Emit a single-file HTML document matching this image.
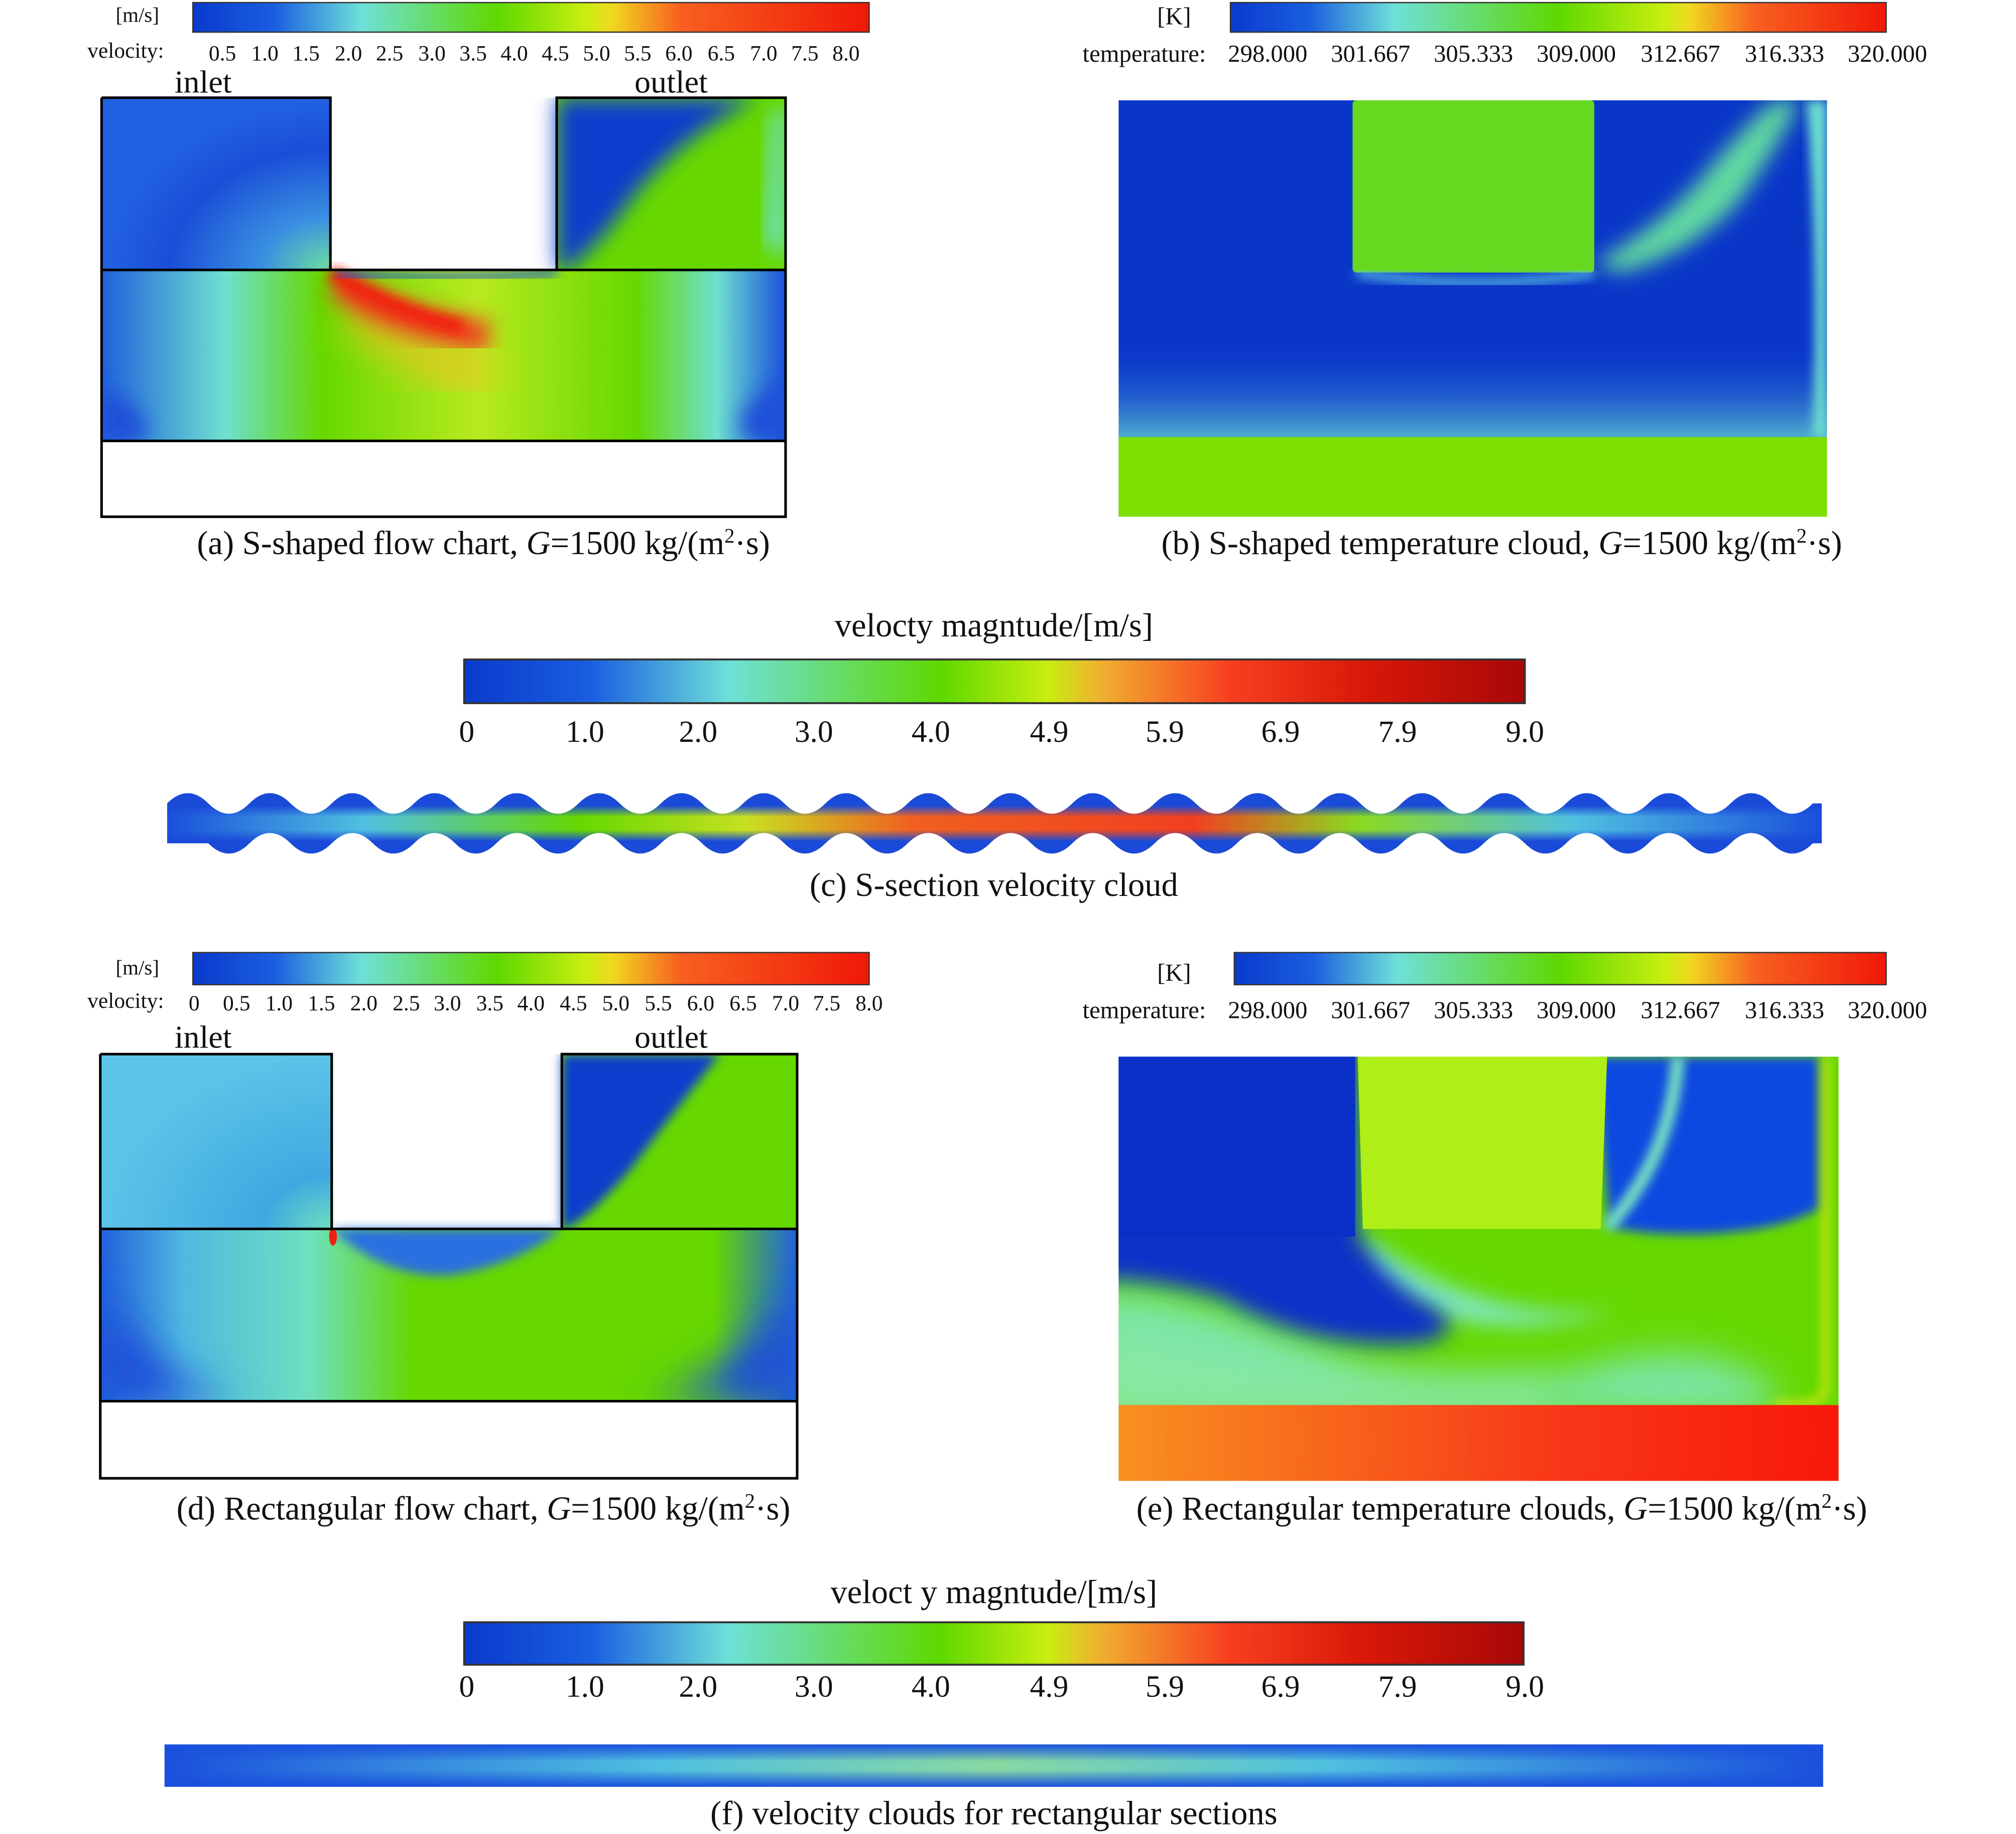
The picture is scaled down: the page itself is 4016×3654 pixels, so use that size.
<!DOCTYPE html>
<html><head><meta charset="utf-8"><style>
html,body{margin:0;padding:0;background:#fff;}
svg{display:block;}
text{font-family:"Liberation Serif",serif;fill:#111;}
</style></head><body>
<svg width="4016" height="3654" viewBox="0 0 1568 1426.7" preserveAspectRatio="none" xmlns="http://www.w3.org/2000/svg">
<defs>
<filter id="b4" x="-20%" y="-20%" width="140%" height="140%"><feGaussianBlur stdDeviation="4"/></filter>
<filter id="b8" x="-20%" y="-20%" width="140%" height="140%"><feGaussianBlur stdDeviation="8"/></filter>
<filter id="b15" x="-30%" y="-30%" width="160%" height="160%"><feGaussianBlur stdDeviation="15"/></filter>
<linearGradient id="jet" x1="0" x2="1">
<stop offset="0" stop-color="#0a3acc"/><stop offset="0.12" stop-color="#1a5ee0"/>
<stop offset="0.25" stop-color="#6ee0d8"/><stop offset="0.45" stop-color="#5fd800"/>
<stop offset="0.58" stop-color="#c8ee10"/><stop offset="0.62" stop-color="#f0d820"/>
<stop offset="0.72" stop-color="#f86020"/><stop offset="1" stop-color="#f01808"/>
</linearGradient>
<linearGradient id="jetT" x1="0" x2="1">
<stop offset="0" stop-color="#0a3acc"/><stop offset="0.12" stop-color="#1a5ee0"/>
<stop offset="0.25" stop-color="#6ee0d8"/><stop offset="0.5" stop-color="#5fd800"/>
<stop offset="0.66" stop-color="#c8ee10"/><stop offset="0.7" stop-color="#f0d820"/>
<stop offset="0.8" stop-color="#f86020"/><stop offset="1" stop-color="#f01808"/>
</linearGradient>
<linearGradient id="jet9" x1="0" x2="1">
<stop offset="0" stop-color="#0a3acc"/><stop offset="0.12" stop-color="#1a5ee0"/>
<stop offset="0.25" stop-color="#6ee0d8"/><stop offset="0.45" stop-color="#5fd800"/>
<stop offset="0.55" stop-color="#c8ee10"/><stop offset="0.6" stop-color="#f0b030"/>
<stop offset="0.72" stop-color="#f84020"/><stop offset="0.85" stop-color="#d81808"/><stop offset="1" stop-color="#a80808"/>
</linearGradient>
<linearGradient id="chA" x1="0" x2="1">
<stop offset="0" stop-color="#2060dc"/><stop offset="0.18" stop-color="#6ee0d0"/>
<stop offset="0.32" stop-color="#66d800"/><stop offset="0.55" stop-color="#b8ea20"/>
<stop offset="0.78" stop-color="#66d800"/><stop offset="0.9" stop-color="#6ee0d0"/><stop offset="1" stop-color="#1a50dc"/>
</linearGradient>
<radialGradient id="inA" cx="1" cy="1" r="1">
<stop offset="0" stop-color="#6ee0a0"/><stop offset="0.3" stop-color="#3a90e0"/><stop offset="0.7" stop-color="#1a4ed8"/><stop offset="1" stop-color="#2262e2"/>
</radialGradient>
<radialGradient id="inD" cx="1" cy="1" r="1">
<stop offset="0" stop-color="#6ee0c0"/><stop offset="0.3" stop-color="#40a8e0"/><stop offset="1" stop-color="#5cc4e8"/>
</radialGradient>
<linearGradient id="chD" x1="0" x2="1">
<stop offset="0" stop-color="#2060dc"/><stop offset="0.12" stop-color="#50b8e0"/>
<stop offset="0.3" stop-color="#6ee0c0"/><stop offset="0.45" stop-color="#66d800"/>
<stop offset="0.88" stop-color="#66d800"/><stop offset="1" stop-color="#2060e0"/>
</linearGradient>
<linearGradient id="redE" x1="0" x2="1">
<stop offset="0" stop-color="#f89020"/><stop offset="0.6" stop-color="#f83818"/><stop offset="1" stop-color="#f81808"/>
</linearGradient>
<linearGradient id="wave" x1="0" x2="1">
<stop offset="0" stop-color="#1a50dc"/><stop offset="0.12" stop-color="#50c0e0"/>
<stop offset="0.25" stop-color="#66d800"/><stop offset="0.35" stop-color="#c8e020"/>
<stop offset="0.45" stop-color="#f06020"/><stop offset="0.62" stop-color="#f04020"/>
<stop offset="0.72" stop-color="#8ada20"/><stop offset="0.85" stop-color="#50c0e0"/><stop offset="1" stop-color="#1a50dc"/>
</linearGradient>
<linearGradient id="waveV" x1="0" y1="0" x2="0" y2="1">
<stop offset="0" stop-color="#1a4ad8"/><stop offset="0.28" stop-color="#1a4ad8"/><stop offset="0.42" stop-color="#1a4ad8" stop-opacity="0"/>
<stop offset="0.58" stop-color="#1a4ad8" stop-opacity="0"/><stop offset="0.72" stop-color="#1a4ad8"/><stop offset="1" stop-color="#1a4ad8"/>
</linearGradient>
<linearGradient id="stripF" x1="0" x2="1">
<stop offset="0" stop-color="#1a50dc"/><stop offset="0.3" stop-color="#50c0e0"/>
<stop offset="0.5" stop-color="#88d8a0"/><stop offset="0.7" stop-color="#50c0e0"/><stop offset="1" stop-color="#1a50dc"/>
</linearGradient>
<linearGradient id="stripV" x1="0" y1="0" x2="0" y2="1">
<stop offset="0" stop-color="#1a50dc"/><stop offset="0.4" stop-color="#1a50dc" stop-opacity="0"/>
<stop offset="0.6" stop-color="#1a50dc" stop-opacity="0"/><stop offset="1" stop-color="#1a50dc"/>
</linearGradient>
<linearGradient id="bBot" x1="0" y1="0" x2="0" y2="1">
<stop offset="0" stop-color="#1a50dc" stop-opacity="0"/><stop offset="1" stop-color="#6ee0d0"/>
</linearGradient>
<clipPath id="cA"><rect x="79" y="76" width="532" height="267"/></clipPath>
<clipPath id="cB"><rect x="870" y="78" width="551" height="324"/></clipPath>
<clipPath id="cD"><rect x="78" y="820" width="542" height="270"/></clipPath>
<clipPath id="cE"><rect x="870" y="822" width="560" height="330"/></clipPath>
<path id="wv" d="M130 625 q16 -16 32 0 t32 0 t32 0 t32 0 t32 0 t32 0 t32 0 t32 0 t32 0 t32 0 t32 0 t32 0 t32 0 t32 0 t32 0 t32 0 t32 0 t32 0 t32 0 t32 0 t32 0 t32 0 t32 0 t32 0 t32 0 t32 0 t32 0 t32 0 t32 0 t32 0 t32 0 t32 0 t32 0 t32 0 t32 0 t32 0 t32 0 t32 0 t32 0 t32 0 L1417 625 L1417 656 L1410 656 q-16 16 -32 0 t-32 0 t-32 0 t-32 0 t-32 0 t-32 0 t-32 0 t-32 0 t-32 0 t-32 0 t-32 0 t-32 0 t-32 0 t-32 0 t-32 0 t-32 0 t-32 0 t-32 0 t-32 0 t-32 0 t-32 0 t-32 0 t-32 0 t-32 0 t-32 0 t-32 0 t-32 0 t-32 0 t-32 0 t-32 0 t-32 0 t-32 0 t-32 0 t-32 0 t-32 0 t-32 0 t-32 0 t-32 0 t-32 0 L130 656Z"/>
<clipPath id="cW"><use href="#wv"/></clipPath>
</defs>

<!-- Panel a -->
<text x="90" y="17" font-size="16">[m/s]</text>
<rect x="150" y="2" width="526" height="23" fill="url(#jet)" stroke="#333" stroke-width="1"/>
<text x="68" y="45" font-size="17">velocity:</text>
<g font-size="17" text-anchor="middle">
<text x="173" y="47">0.5</text><text x="206" y="47">1.0</text><text x="238" y="47">1.5</text><text x="271" y="47">2.0</text><text x="303" y="47">2.5</text><text x="336" y="47">3.0</text><text x="368" y="47">3.5</text><text x="400" y="47">4.0</text><text x="432" y="47">4.5</text><text x="464" y="47">5.0</text><text x="496" y="47">5.5</text><text x="528" y="47">6.0</text><text x="561" y="47">6.5</text><text x="594" y="47">7.0</text><text x="626" y="47">7.5</text><text x="658" y="47">8.0</text>
</g>
<text x="158" y="72" font-size="25" text-anchor="middle">inlet</text>
<text x="522" y="72" font-size="25" text-anchor="middle">outlet</text>
<rect x="79" y="76" width="178" height="134" fill="url(#inA)"/>
<g clip-path="url(#cA)">
<rect x="433" y="76" width="178" height="134" fill="#66d800"/>
<path d="M433 76 H590 Q520 110 480 170 Q455 200 440 210 H433Z" fill="#0a3ccc" filter="url(#b8)"/>
<path d="M600 90 L611 80 V200 L595 190Z" fill="#6ee0d0" filter="url(#b8)"/>
<rect x="79" y="210" width="532" height="133" fill="url(#chA)"/>
<path d="M79 300 Q150 345 79 345Z M611 290 Q540 345 611 345Z" fill="#1a4ed8" filter="url(#b8)"/>
<path d="M275 240 Q320 280 380 290" stroke="#f0c020" stroke-width="30" fill="none" filter="url(#b15)" opacity="0.8"/>
<path d="M262 218 Q300 250 380 262" stroke="#f04020" stroke-width="24" fill="none" filter="url(#b8)"/>
<path d="M258 212 Q300 240 360 255" stroke="#f02010" stroke-width="12" fill="none" filter="url(#b4)"/>
<path d="M262 212 Q330 220 433 212" stroke="#1a50dc" stroke-width="5" fill="none" filter="url(#b4)"/>
</g>
<path d="M79 76H257V210M433 210V76H611V402H79V76M79 210H611M79 343H611" fill="none" stroke="#000" stroke-width="2"/>
<text x="376" y="431" font-size="26" text-anchor="middle">(a) S-shaped flow chart, <tspan font-style="italic">G</tspan>=1500 kg/(m<tspan font-size="16" dy="-9">2</tspan><tspan dy="9">·s)</tspan></text>

<!-- Panel b -->
<text x="900" y="19" font-size="19">[K]</text>
<rect x="957" y="2" width="510" height="23" fill="url(#jetT)" stroke="#333" stroke-width="1"/>
<text x="842" y="48" font-size="19">temperature:</text>
<g font-size="19" text-anchor="middle">
<text x="986" y="48">298.000</text><text x="1066" y="48">301.667</text><text x="1146" y="48">305.333</text><text x="1226" y="48">309.000</text><text x="1307" y="48">312.667</text><text x="1388" y="48">316.333</text><text x="1468" y="48">320.000</text>
</g>
<g clip-path="url(#cB)">
<rect x="870" y="78" width="551" height="324" fill="#0a36c8"/>
<rect x="870" y="270" width="551" height="70" fill="url(#bBot)" opacity="0.7"/>
<path d="M1405 78 Q1415 200 1410 340 L1421 340 L1421 78Z" fill="#6ee0d0" filter="url(#b4)"/>
<path d="M1240 205 Q1300 170 1330 130 Q1360 95 1380 78 L1400 78 Q1380 120 1350 160 Q1310 200 1260 212Z" fill="#60d8a0" filter="url(#b8)"/>
<rect x="1052" y="78" width="188" height="134" rx="3" fill="#66d820"/>
<path d="M1055 212 Q1150 228 1240 212" stroke="#5ac0e0" stroke-width="6" fill="none" filter="url(#b4)"/>
<rect x="870" y="340" width="551" height="62" fill="#7ede00"/>
</g>
<text x="1168" y="431" font-size="26" text-anchor="middle">(b) S-shaped temperature cloud, <tspan font-style="italic">G</tspan>=1500 kg/(m<tspan font-size="16" dy="-9">2</tspan><tspan dy="9">·s)</tspan></text>

<!-- Panel c -->
<text x="773" y="495" font-size="26" text-anchor="middle">velocty magntude/[m/s]</text>
<rect x="361" y="513" width="825" height="34" fill="url(#jet9)" stroke="#333" stroke-width="1.5"/>
<g font-size="24" text-anchor="middle">
<text x="363" y="577">0</text><text x="455" y="577">1.0</text><text x="543" y="577">2.0</text><text x="633" y="577">3.0</text><text x="724" y="577">4.0</text><text x="816" y="577">4.9</text><text x="906" y="577">5.9</text><text x="996" y="577">6.9</text><text x="1087" y="577">7.9</text><text x="1186" y="577">9.0</text>
</g>
<g clip-path="url(#cW)">
<rect x="130" y="605" width="1287" height="70" fill="url(#wave)"/>
<rect x="130" y="609" width="1287" height="63" fill="url(#waveV)"/>
</g>
<text x="773" y="697" font-size="26" text-anchor="middle">(c) S-section velocity cloud</text>

<!-- Panel d -->
<text x="90" y="758" font-size="16">[m/s]</text>
<rect x="150" y="741" width="526" height="25" fill="url(#jet)" stroke="#333" stroke-width="1"/>
<text x="68" y="784" font-size="17">velocity:</text>
<g font-size="17" text-anchor="middle">
<text x="151" y="786">0</text><text x="184" y="786">0.5</text><text x="217" y="786">1.0</text><text x="250" y="786">1.5</text><text x="283" y="786">2.0</text><text x="316" y="786">2.5</text><text x="348" y="786">3.0</text><text x="381" y="786">3.5</text><text x="413" y="786">4.0</text><text x="446" y="786">4.5</text><text x="479" y="786">5.0</text><text x="512" y="786">5.5</text><text x="545" y="786">6.0</text><text x="578" y="786">6.5</text><text x="611" y="786">7.0</text><text x="643" y="786">7.5</text><text x="676" y="786">8.0</text>
</g>
<text x="158" y="815" font-size="25" text-anchor="middle">inlet</text>
<text x="522" y="815" font-size="25" text-anchor="middle">outlet</text>
<rect x="78" y="820" width="180" height="136" fill="url(#inD)"/>
<g clip-path="url(#cD)">
<rect x="437" y="820" width="183" height="136" fill="#66d800"/>
<path d="M437 820 H560 Q520 870 490 910 Q460 945 440 956 H437Z" fill="#0a3ccc" filter="url(#b4)"/>
<rect x="78" y="956" width="542" height="134" fill="url(#chD)"/>
<path d="M78 1000 Q130 1090 200 1090 H78Z" fill="#1a4ed8" filter="url(#b15)"/>
<path d="M620 1000 Q560 1080 500 1090 H620Z" fill="#1a4ed8" filter="url(#b15)"/>
<path d="M258 956 Q300 995 350 992 Q400 985 437 956Z" fill="#2a70e0" filter="url(#b4)"/>
<ellipse cx="259" cy="962" rx="3" ry="7" fill="#f02010"/>
</g>
<path d="M78 820H258V956M437 956V820H620V1150H78V820M78 956H620M78 1090H620" fill="none" stroke="#000" stroke-width="2"/>
<text x="376" y="1182" font-size="26" text-anchor="middle">(d) Rectangular flow chart, <tspan font-style="italic">G</tspan>=1500 kg/(m<tspan font-size="16" dy="-9">2</tspan><tspan dy="9">·s)</tspan></text>

<!-- Panel e -->
<text x="900" y="763" font-size="19">[K]</text>
<rect x="960" y="741" width="507" height="25" fill="url(#jetT)" stroke="#333" stroke-width="1"/>
<text x="842" y="792" font-size="19">temperature:</text>
<g font-size="19" text-anchor="middle">
<text x="986" y="792">298.000</text><text x="1066" y="792">301.667</text><text x="1146" y="792">305.333</text><text x="1226" y="792">309.000</text><text x="1307" y="792">312.667</text><text x="1388" y="792">316.333</text><text x="1468" y="792">320.000</text>
</g>
<g clip-path="url(#cE)">
<rect x="870" y="822" width="560" height="330" fill="#66d800"/>
<path d="M850 1000 Q950 1010 1050 1060 Q1150 1090 1250 1060 Q1330 1040 1380 1080 L1380 1100 L850 1100Z" fill="#7ee8c0" filter="url(#b15)" opacity="0.9"/>
<path d="M850 1030 Q1000 1080 1200 1070 L1200 1110 L850 1110Z" fill="#8ee8a0" filter="url(#b15)" opacity="0.7"/>
<path d="M1060 960 Q1150 1030 1260 1020 Q1150 1050 1060 1000Z" fill="#7ee8c0" filter="url(#b8)"/>
<path d="M850 800 H1056 V960 Q1080 1000 1120 1020 Q1140 1040 1100 1045 Q1020 1050 950 1010 Q900 995 850 995Z" fill="#0a30c8" filter="url(#b8)"/>
<rect x="870" y="822" width="184" height="140" fill="#0a30c8"/>
<path d="M1240 822 H1415 V940 Q1380 960 1310 960 Q1280 960 1252 955Z" fill="#0a48e0" filter="url(#b4)"/>
<path d="M1305 822 Q1300 900 1250 955" stroke="#7ee8c0" stroke-width="10" fill="none" filter="url(#b4)"/>
<path d="M1060 956 L1245 956 L1250 822 L1056 822Z" fill="#b0ee18"/>
<path d="M1420 822 V1080 Q1420 1095 1380 1092" stroke="#d8e818" stroke-width="5" fill="none" filter="url(#b4)"/>
<rect x="870" y="1093" width="560" height="59" fill="url(#redE)"/>
</g>
<text x="1168" y="1182" font-size="26" text-anchor="middle">(e) Rectangular temperature clouds, <tspan font-style="italic">G</tspan>=1500 kg/(m<tspan font-size="16" dy="-9">2</tspan><tspan dy="9">·s)</tspan></text>

<!-- Panel f -->
<text x="773" y="1247" font-size="26" text-anchor="middle">veloct y magntude/[m/s]</text>
<rect x="361" y="1262" width="824" height="33" fill="url(#jet9)" stroke="#333" stroke-width="1.5"/>
<g font-size="24" text-anchor="middle">
<text x="363" y="1320">0</text><text x="455" y="1320">1.0</text><text x="543" y="1320">2.0</text><text x="633" y="1320">3.0</text><text x="724" y="1320">4.0</text><text x="816" y="1320">4.9</text><text x="906" y="1320">5.9</text><text x="996" y="1320">6.9</text><text x="1087" y="1320">7.9</text><text x="1186" y="1320">9.0</text>
</g>
<rect x="128" y="1357" width="1290" height="33" fill="url(#stripF)"/>
<rect x="128" y="1357" width="1290" height="33" fill="url(#stripV)"/>
<text x="773" y="1419" font-size="26" text-anchor="middle">(f) velocity clouds for rectangular sections</text>
</svg>
</body></html>
